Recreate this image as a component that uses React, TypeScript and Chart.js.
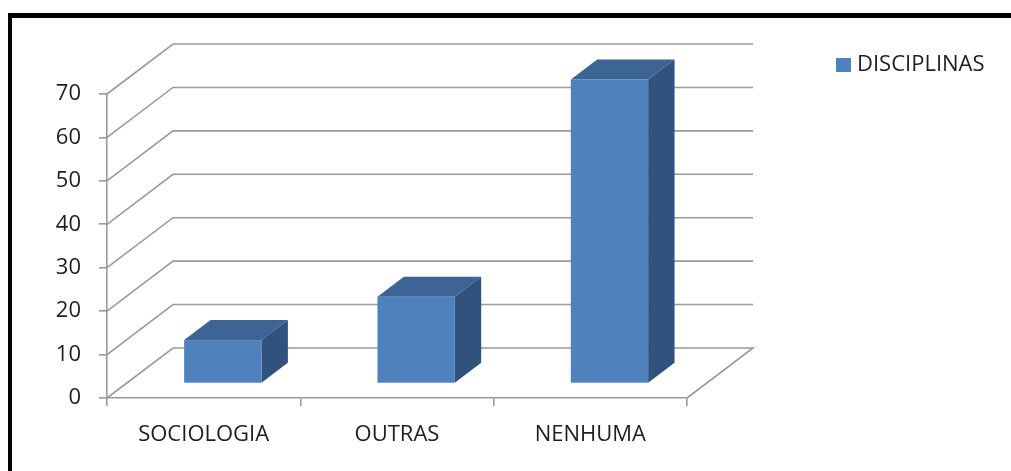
import React, { useEffect, useRef } from 'react';
import { Chart, registerables } from 'chart.js';

Chart.register(...registerables);

// Data
const categories: string[] = ['SOCIOLOGIA', 'OUTRAS', 'NENHUMA'];
const seriesLabel = 'DISCIPLINAS';
const seriesValues: number[] = [10, 20, 70];
const yMin = 0;
const yMax = 70;
const yStep = 10;

// 3D look: depth vector of the floor/back wall and where the bars sit in it
const DEPTH_X = 66;
const DEPTH_Y = -50;
const BAR_FRONT = 0.29;
const BAR_BACK = 0.69;

const FRONT_COLOR = '#4F81BD';
const TOP_COLOR = '#3C6596';
const SIDE_COLOR = '#30527C';
const GRID_COLOR = '#9a9a9a';
const TEXT_COLOR = '#1e1e1e';
const FONT_FAMILY = "'Open Sans', sans-serif";
const FONT_SIZE = 22;

const depthPlugin = {
  id: 'depth3d',
  beforeDatasetsDraw(chart: any) {
    const { ctx, chartArea: a, scales } = chart;
    const ys = scales.y;
    ctx.save();

    // back wall gridlines and floor outline
    ctx.strokeStyle = GRID_COLOR;
    ctx.lineWidth = 1.6;
    ctx.lineJoin = 'miter';
    ys.ticks.forEach((t: any) => {
      const py = ys.getPixelForValue(t.value);
      ctx.beginPath();
      ctx.moveTo(a.left, py);
      ctx.lineTo(a.left + DEPTH_X, py + DEPTH_Y);
      ctx.lineTo(a.right + DEPTH_X, py + DEPTH_Y);
      if (t.value === yMin) ctx.lineTo(a.right, py);
      ctx.stroke();
    });

    // bars as boxes
    const meta = chart.getDatasetMeta(0);
    const fx = BAR_FRONT * DEPTH_X;
    const fy = BAR_FRONT * DEPTH_Y;
    const bx = BAR_BACK * DEPTH_X;
    const by = BAR_BACK * DEPTH_Y;
    meta.data.forEach((bar: any) => {
      const { x, y, base, width } = bar.getProps(['x', 'y', 'base', 'width'], true);
      const l = x - width / 2;
      const r = x + width / 2;

      ctx.fillStyle = TOP_COLOR;
      ctx.beginPath();
      ctx.moveTo(l + fx, y + fy);
      ctx.lineTo(l + bx, y + by);
      ctx.lineTo(r + bx, y + by);
      ctx.lineTo(r + fx, y + fy);
      ctx.closePath();
      ctx.fill();

      ctx.fillStyle = SIDE_COLOR;
      ctx.beginPath();
      ctx.moveTo(r + fx, y + fy);
      ctx.lineTo(r + bx, y + by);
      ctx.lineTo(r + bx, base + by);
      ctx.lineTo(r + fx, base + fy);
      ctx.closePath();
      ctx.fill();

      ctx.fillStyle = FRONT_COLOR;
      ctx.fillRect(l + fx, y + fy, width, base - y);
    });

    ctx.restore();
    return false;
  },
  afterDraw(chart: any) {
    const { ctx } = chart;
    const ds = chart.data.datasets[0];
    ctx.save();
    ctx.fillStyle = FRONT_COLOR;
    ctx.fillRect(836, 58, 15, 14);
    ctx.fillStyle = TEXT_COLOR;
    ctx.font = `${FONT_SIZE}px ${FONT_FAMILY}`;
    ctx.textBaseline = 'middle';
    ctx.textAlign = 'left';
    ctx.fillText(ds.label, 857, 65);
    ctx.restore();
  },
};

export default function App() {
  const canvasRef = useRef<HTMLCanvasElement | null>(null);

  useEffect(() => {
    const canvas = canvasRef.current;
    if (!canvas) return;
    const chart = new Chart(canvas, {
      type: 'bar',
      data: {
        labels: categories,
        datasets: [
          {
            label: seriesLabel,
            data: seriesValues,
            backgroundColor: FRONT_COLOR,
            barPercentage: 0.4,
            categoryPercentage: 1,
          },
        ],
      },
      options: {
        responsive: false,
        animation: false,
        events: [],
        layout: { padding: { top: 94, right: 324, left: 0, bottom: 0 } },
        plugins: {
          legend: { display: false },
          tooltip: { enabled: false },
        },
        scales: {
          x: {
            offset: true,
            grid: {
              offset: true,
              drawOnChartArea: false,
              drawTicks: true,
              tickLength: 8,
              color: GRID_COLOR,
              lineWidth: 1.6,
            },
            border: { display: true, color: GRID_COLOR, width: 1.6 },
            ticks: {
              color: TEXT_COLOR,
              font: { family: FONT_FAMILY, size: FONT_SIZE },
              padding: 16,
              maxRotation: 0,
              autoSkip: false,
            },
            afterFit: (scale: any) => {
              scale.height = 73;
            },
          },
          y: {
            min: yMin,
            max: yMax,
            grid: {
              drawOnChartArea: false,
              drawTicks: true,
              tickLength: 8,
              color: GRID_COLOR,
              lineWidth: 1.6,
            },
            border: { display: true, color: GRID_COLOR, width: 1.6 },
            ticks: {
              stepSize: yStep,
              color: TEXT_COLOR,
              font: { family: FONT_FAMILY, size: FONT_SIZE },
              padding: 18,
            },
            afterFit: (scale: any) => {
              scale.width = 107;
            },
          },
        },
      },
      plugins: [depthPlugin],
    });
    return () => chart.destroy();
  }, []);

  return (
    <div
      style={{
        position: 'fixed',
        left: 0,
        top: 0,
        width: 1011,
        height: 471,
        background: '#fff',
        overflow: 'hidden',
      }}
    >
      <div
        style={{
          position: 'absolute',
          left: 8,
          top: 13,
          right: 0,
          bottom: 0,
          borderTop: '5px solid #000',
          borderLeft: '4px solid #000',
        }}
      />
      <canvas
        ref={canvasRef}
        width={1011}
        height={471}
        style={{ position: 'absolute', left: 0, top: 0 }}
      />
    </div>
  );
}
